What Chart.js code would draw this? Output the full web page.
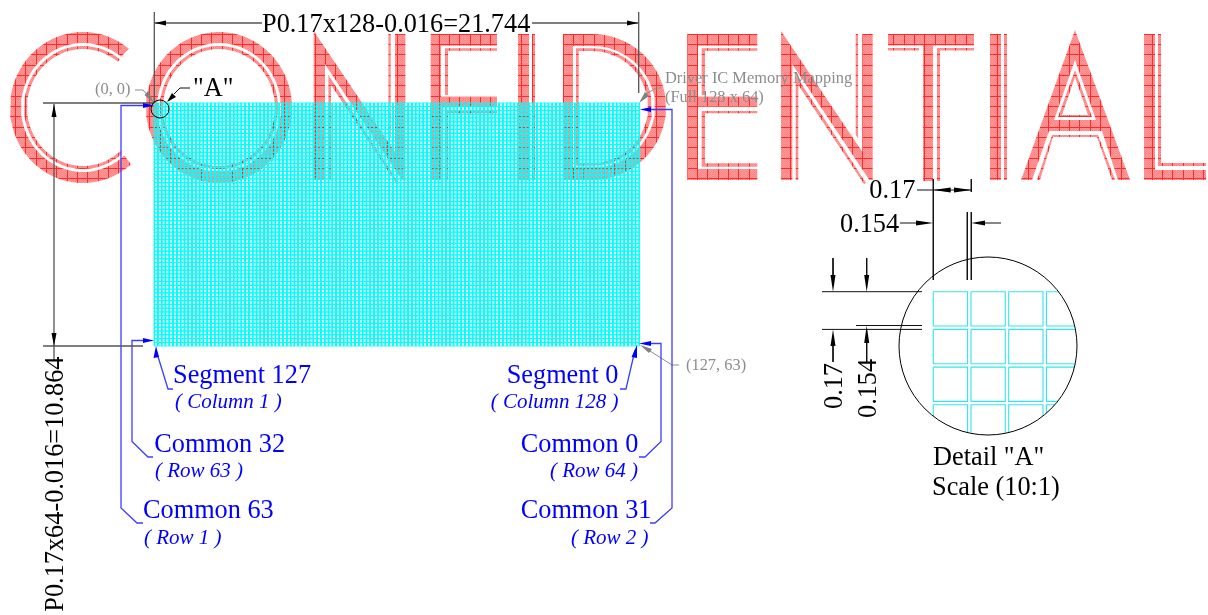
<!DOCTYPE html>
<html lang="en">
<head>
  <meta charset="UTF-8">
  <title>Driver IC Memory Mapping</title>
  <script src="https://cdn.jsdelivr.net/npm/chart.js"></script>
  <style>
    html, body { margin: 0; padding: 0; background: #fff; }
    canvas { display: block; }
  </style>
</head>
<body>
  <canvas id="drawing" width="1208" height="615"></canvas>

  <script>
    // panel cells, in mm
    const gridColumns = 128;
    const gridRows = 64;
    const cellPitch = 0.17;
    const cellSize = 0.154;

    // curved letter outlines (watermark glyph shape, not chart values)
    function ellipse(cx, cy, rx, ry, from, to) {
      const pts = [];
      const dir = to > from ? 4 : -4;
      for (let a = from; dir > 0 ? a <= to : a >= to; a += dir) {
        pts.push([cx + rx * Math.cos(a * Math.PI / 180), cy + ry * Math.sin(a * Math.PI / 180)]);
      }
      return pts;
    }

    // watermark letters
    const letterC = [
      [...ellipse(83, 107.5, 73, 75.5, -51, -312), ...ellipse(83, 107.5, 62, 64.5, -312, -51)],
      [...ellipse(83, 107.5, 59, 61.5, -51, -312), ...ellipse(83, 107.5, 56, 58.5, -312, -51)]
    ];
    const letterO = [
      [...ellipse(219, 107.5, 73, 75.5, 0, 360), ...ellipse(219, 107.5, 62, 64.5, 360, 0)],
      [...ellipse(219, 107.5, 59, 61.5, 0, 360), ...ellipse(219, 107.5, 56, 58.5, 360, 0)]
    ];
    const letterN1 = [
      [[313.7,31],[395,151.7],[395,34],[405.4,34],[405.4,180],[402,180],[325,64.3],[325,180],[313.7,180]],
      [[328.4,180],[328.4,75],[398.7,183],[396.7,184],[331,85],[331,180]],
      [[388.4,34],[390.7,34],[390.7,138],[388.4,135]]
    ];
    const letterF = [
      [[430.7,34],[497,34],[497,45.7],[441,45.7],[441,96.7],[497,96.7],[497,106.7],[441,106.7],[441,180],[430.7,180]],
      [[445,48.3],[497,48.3],[497,50.7],[448,50.7],[448,95],[445,95]],
      [[445,111],[497,111],[497,113.3],[448,113.3],[448,180],[445,180]]
    ];
    const letterI1 = [
      [[518,34],[529,34],[529,180],[518,180]],
      [[532,34],[535,34],[535,180],[532,180]]
    ];
    const letterD = [
      [[563,34],...ellipse(592,107,74,73,-90,90),[563,180],[563,34],[573,46],[573,168],...ellipse(592,107,63,61,90,-90),[573,46]],
      [[576,48.3],...ellipse(592,107,60,58.7,-90,90),[576,165.7],[576,48.3],[578.7,51],[578.7,163],...ellipse(592,107,56,56,90,-90),[578.7,51]]
    ];
    const letterE = [
      [[687.3,34],[757.3,34],[757.3,45.7],[698,45.7],[698,96.7],[757.3,96.7],[757.3,106.7],[698,106.7],[698,169],[757.3,169],[757.3,180],[687.3,180]],
      [[701.7,48.3],[757.3,48.3],[757.3,50.7],[705,50.7],[705,95],[701.7,95]],
      [[701.7,111],[757.3,111],[757.3,113.3],[705,113.3],[705,163.3],[757.3,163.3],[757.3,166.7],[701.7,166.7]]
    ];
    const letterN2 = [
      [[781,31],[862.3,151.7],[862.3,34],[872.7,34],[872.7,180],[869.3,180],[792.3,64.3],[792.3,180],[781,180]],
      [[795.7,180],[795.7,75],[866,183],[864,184],[798.3,85],[798.3,180]],
      [[855.7,34],[858,34],[858,138],[855.7,135]]
    ];
    const letterT = [
      [[888,34],[974,34],[974,45.5],[933,45.5],[933,181],[923,181],[923,45.5],[888,45.5]],
      [[888,48],[919,48],[919,50.5],[888,50.5]],
      [[937,48],[974,48],[974,50.5],[940,50.5],[940,181],[937,181]]
    ];
    const letterI2 = [
      [[990,34],[1001,34],[1001,180],[990,180]],
      [[1004,34],[1007,34],[1007,180],[1004,180]]
    ];
    const letterA = [
      [[1075,30],[1075,60],[1054,120],[1096,120],[1075,60],[1075,30],[1130,180],[1118,180],[1102,131],[1049,131],[1032,180],[1021,180]],
      [[1075,70],[1075,77],[1062,115],[1088,115],[1075,77],[1075,70],[1092,117],[1058,117]],
      [[1037,180],[1052,135],[1098,135],[1115,180],[1112,180],[1097,137],[1053,137],[1040,180]]
    ];
    const letterL = [
      [[1144,34],[1155,34],[1155,170],[1206,170],[1206,180],[1144,180]],
      [[1158,34],[1161,34],[1161,163],[1206,163],[1206,166],[1158,166]]
    ];
    const watermark = [letterC, letterO, letterN1, letterF, letterI1, letterD, letterE, letterN2, letterT, letterI2, letterA, letterL].flat();

    // dimension lines
    const dimensionLines = [
      [[154.3,12],[154.3,103]],
      [[638.7,12],[638.7,93]],
      [[155,23],[262,23]],
      [[532,23],[638,23]],
      [[43,103],[154,103]],
      [[43,346],[143,346]],
      [[54,104],[54,360]]
    ];
    const dimensionArrows = [
      [[154.5,23],[166,20.5],[166,25.5]],
      [[638.5,23],[627,20.5],[627,25.5]],
      [[54,104],[51.5,117],[56.5,117]],
      [[54,346],[51.5,333],[56.5,333]],
      [[167,102],[172,93],[176,97]]
    ];

    // detail A
    const detailLines = [
      [[933.3,179],[933.3,280]],
      [[971.3,179],[971.3,192]],
      [[967.3,212],[967.3,280]],
      [[971.3,212],[971.3,280]],
      [[917,190],[971,190]],
      [[900,223],[916,223]],
      [[985,223],[1001,223]],
      [[822,291.7],[922,291.7]],
      [[822,329.4],[922,329.4]],
      [[856,325.5],[922,325.5]],
      [[833,258],[833,275]],
      [[866.7,258],[866.7,275]],
      [[833,346],[833,362]],
      [[866.7,343],[866.7,362]],
      [[174,94],[180,88],[190,88]]
    ];
    const detailArrows = [
      [[933.3,190],[950.7,187.5],[950.7,192.5]],
      [[971.3,190],[954,187.5],[954,192.5]],
      [[933.3,223],[916,220.5],[916,225.5]],
      [[971.3,223],[985,220.5],[985,225.5]],
      [[833,291.7],[830.5,275],[835.5,275]],
      [[866.7,291.7],[864.2,275],[869.2,275]],
      [[833,329.5],[830.5,346],[835.5,346]],
      [[866.7,325.7],[864.2,343],[869.2,343]]
    ];
    // cells seen through the detail circle, cut off where it ends
    const detailCells = [
      [[933.3,291.7],[967.6,291.7],[967.6,326],[933.3,326],[933.3,291.7]],
      [[971,291.7],[1005.3,291.7],[1005.3,326],[971,326],[971,291.7]],
      [[1008.7,291.7],[1043,291.7],[1043,326],[1008.7,326],[1008.7,291.7]],
      [[1058.5,291.7],[1046.4,291.7],[1046.4,326],[1074.7,326]],
      [[933.3,329.4],[967.6,329.4],[967.6,363.7],[933.3,363.7],[933.3,329.4]],
      [[971,329.4],[1005.3,329.4],[1005.3,363.7],[971,363.7],[971,329.4]],
      [[1008.7,329.4],[1043,329.4],[1043,363.7],[1008.7,363.7],[1008.7,329.4]],
      [[1075.4,329.4],[1046.4,329.4],[1046.4,363.7],[1075.2,363.7]],
      [[933.3,367.1],[967.6,367.1],[967.6,401.4],[933.3,401.4],[933.3,367.1]],
      [[971,367.1],[1005.3,367.1],[1005.3,401.4],[971,401.4],[971,367.1]],
      [[1008.7,367.1],[1043,367.1],[1043,401.4],[1008.7,401.4],[1008.7,367.1]],
      [[1074.5,367.1],[1046.4,367.1],[1046.4,401.4],[1057.7,401.4]],
      [[933.3,416.2],[933.3,404.8],[967.6,404.8],[967.6,432.6]],
      [[971,433.4],[971,404.8],[1005.3,404.8],[1005.3,433.3]],
      [[1008.7,432.6],[1008.7,404.8],[1043,404.8],[1043,416]],
      [[1046.4,413.2],[1046.4,404.8],[1054.8,404.8]]
    ];
    const circleCentres = [[160,109],[988,346]];
    const circleRadii = [9,89];

    // blue leaders
    const blueLines = [
      [[143,105.5],[121,105.5],[121,508],[137,523],[143,523]],
      [[145,340.5],[132,340.5],[132,441.5],[148,457],[153,457]],
      [[156,350],[168,389],[173,389]],
      [[650,109.5],[672,109.5],[672,508],[655,523],[650,523]],
      [[650,343.5],[661,343.5],[661,441.5],[645,457],[639,457]],
      [[635,350],[626,389],[620,389]]
    ];
    const blueArrows = [
      [[154,105.5],[143,103],[143,108]],
      [[154,340.5],[143,338],[143,343]],
      [[156,346],[153.5,358],[159,357]],
      [[640,109.5],[651,107],[651,112]],
      [[639,343.5],[651,341],[651,346]],
      [[637,345],[631.5,357],[637,358]]
    ];

    // grey leaders
    const greyLines = [
      [[135,90],[143,90],[150,98]],
      [[661,88],[656,88],[646,94]],
      [[679,365],[672,365],[650,351]]
    ];
    const greyArrows = [
      [[154,103],[144.5,95],[148,91]],
      [[639,103],[645,92],[649,96]],
      [[640,345],[652,349],[649,353]]
    ];

    // labels
    const labelTexts = [
      'P0.17x128-0.016=21.744', 'P0.17x64-0.016=10.864', '"A"',
      '0.17', '0.154', '0.17', '0.154', 'Detail "A"', 'Scale (10:1)',
      'Segment 127', '( Column 1 )', 'Common 32', '( Row 63 )', 'Common 63', '( Row 1 )',
      'Segment 0', '( Column 128 )', 'Common 0', '( Row 64 )', 'Common 31', '( Row 2 )',
      '(0, 0)', 'Driver IC Memory Mapping', '(Full 128 x 64)', '(127, 63)'
    ];
    const labelX = [262, 63, 193, 869.3, 840, 842, 875.7, 933, 932,
      173, 175, 154.3, 155, 143, 144,
      506.7, 490.7, 520.7, 550, 520.7, 571,
      95, 665, 665, 686];
    const labelY = [32, 611.7, 96, 198.3, 231.7, 409, 418, 465, 495,
      383.2, 408, 451.5, 476.7, 518, 544,
      383.2, 408, 451.5, 476.7, 518, 544,
      94, 83, 102, 370];
    const labelAngles = [0, -90, 0, 0, 0, -90, -90, 0, 0,
      0, 0, 0, 0, 0, 0, 0, 0, 0, 0, 0, 0, 0, 0, 0, 0];
    const labelKinds = ['black', 'black', 'black', 'black', 'black', 'black', 'black', 'black', 'black',
      'blue', 'blueItalic', 'blue', 'blueItalic', 'blue', 'blueItalic',
      'blue', 'blueItalic', 'blue', 'blueItalic', 'blue', 'blueItalic',
      'grey', 'grey', 'grey', 'grey'];
    const kindFonts = {
      black: '26.3px "Liberation Serif"',
      blue: '26.3px "Liberation Serif"',
      blueItalic: 'italic 21px "Liberation Serif"',
      grey: '16.4px "Liberation Serif"'
    };
    const kindColors = { black: '#000', blue: '#0000ff', blueItalic: '#0000ff', grey: '#8c8c8c' };

    // shapes -> chart points, null between them
    function toPoints(shapes) {
      const pts = [];
      shapes.forEach(shape => {
        shape.forEach(p => pts.push({ x: p[0], y: p[1] }));
        pts.push({ x: shape[0][0], y: null });
      });
      return pts;
    }

    function cellEdges() {
      const vertical = [];
      const horizontal = [];
      const width = gridColumns * cellPitch - (cellPitch - cellSize);
      const height = gridRows * cellPitch - (cellPitch - cellSize);
      for (let c = 0; c < gridColumns; c++) {
        [c * cellPitch, c * cellPitch + cellSize].forEach(x => {
          vertical.push({ x: x, y: 0 }, { x: x, y: height }, { x: x, y: null });
        });
      }
      for (let r = 0; r < gridRows; r++) {
        [r * cellPitch, r * cellPitch + cellSize].forEach(y => {
          horizontal.push({ x: 0, y: y }, { x: width, y: y }, { x: 0, y: null });
        });
      }
      return vertical.concat(horizontal);
    }

    // pink with a red mesh, like the stamp
    function stampPattern() {
      const tile = document.createElement('canvas');
      tile.width = 31;
      tile.height = 31;
      const t = tile.getContext('2d');
      for (let x = 0; x < 31; x++) {
        for (let y = 0; y < 31; y++) {
          t.fillStyle = (x + y) % 2 ? '#ff8282' : '#ff9a9a';
          t.fillRect(x, y, 1, 1);
        }
      }
      t.fillStyle = '#ff2a2a';
      [5, 15, 25].forEach(x => t.fillRect(x, 0, 1, 31));
      [3, 13, 23].forEach(y => t.fillRect(0, y, 31, 1));
      return t.createPattern(tile, 'repeat');
    }

    function lineSet(shapes, color, width, order) {
      return { data: toPoints(shapes), showLine: true, borderColor: color, borderWidth: width, pointRadius: 0, order: order };
    }
    function fillSet(shapes, color, order) {
      return { data: toPoints(shapes), showLine: true, fill: 'shape', backgroundColor: color, borderColor: 'transparent', borderWidth: 1, pointRadius: 0, order: order };
    }

    const labelPlugin = {
      id: 'labelPlugin',
      afterDatasetsDraw(chart) {
        const ctx = chart.ctx;
        labelTexts.forEach((text, i) => {
          ctx.save();
          ctx.translate(chart.scales.x.getPixelForValue(labelX[i]), chart.scales.y.getPixelForValue(labelY[i]));
          ctx.rotate(labelAngles[i] * Math.PI / 180);
          ctx.font = kindFonts[labelKinds[i]];
          ctx.fillStyle = kindColors[labelKinds[i]];
          ctx.textBaseline = 'alphabetic';
          ctx.fillText(text, 0, 0);
          ctx.restore();
        });
      }
    };

    new Chart(document.getElementById('drawing'), {
      type: 'scatter',
      data: {
        datasets: [
          fillSet(watermark, stampPattern(), 10),
          Object.assign(lineSet([], '#00ffff', 0.9, 5), { data: cellEdges(), xAxisID: 'xMm', yAxisID: 'yMm' }),
          lineSet(detailCells, '#33e6e6', 1.1, 4),
          lineSet(dimensionLines, '#555', 1.3, 3),
          fillSet(dimensionArrows, '#000', 2),
          lineSet(detailLines, '#111', 1, 3),
          fillSet(detailArrows, '#000', 2),
          lineSet(blueLines, '#3c3cff', 1.3, 3),
          fillSet(blueArrows, '#0000ff', 2),
          lineSet(greyLines, '#8c8c8c', 1, 3),
          fillSet(greyArrows, '#808080', 2),
          {
            data: circleCentres.map(p => ({ x: p[0], y: p[1] })),
            pointRadius: circleRadii,
            pointBorderWidth: 1,
            pointBorderColor: '#000',
            pointBackgroundColor: 'transparent',
            order: 1
          }
        ]
      },
      options: {
        responsive: false,
        animation: false,
        events: [],
        layout: { padding: 0, autoPadding: false },
        plugins: { legend: { display: false }, tooltip: { enabled: false } },
        scales: {
          x: { type: 'linear', display: false, min: 0, max: 1208 },
          y: { type: 'linear', display: false, min: 0, max: 615, reverse: true },
          xMm: { type: 'linear', display: false, min: -6.919, max: 47.25 },
          yMm: { type: 'linear', display: false, min: -4.604, max: 22.888, reverse: true }
        }
      },
      plugins: [labelPlugin]
    });
  </script>
</body>
</html>
